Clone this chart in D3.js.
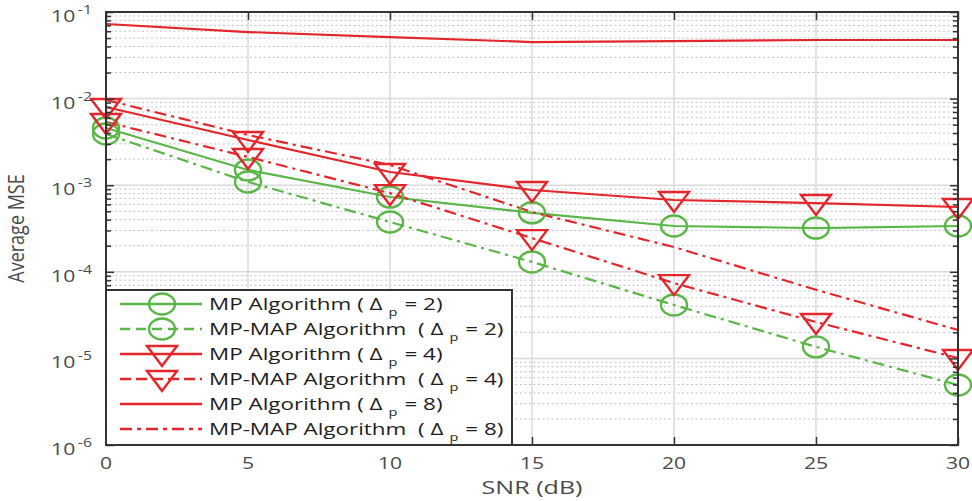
<!DOCTYPE html>
<html>
<head>
<meta charset="utf-8">
<script src="https://cdn.jsdelivr.net/npm/d3@7"></script>
<style>
  html, body { margin: 0; padding: 0; background: #fff; }
  svg { display: block; }
  text { font-family: "Open Sans", "DejaVu Sans", sans-serif; }
</style>
</head>
<body>
<svg id="chart" width="972" height="501"></svg>
<script>
// SNR sweep (dB)
const snr = [0, 5, 10, 15, 20, 25, 30];

// Average MSE per scheme
const mpD2  = [0.00458, 0.00150, 0.00073, 0.00048, 0.000338, 0.00032, 0.000338];
const mapD2 = [0.0039, 0.00109, 0.000376, 0.00013, 4.14e-5, 1.36e-5, 4.93e-6];
const mpD4  = [0.0080, 0.00333, 0.00142, 0.00088, 0.000675, 0.000622, 0.00056];
const mapD4 = [0.00537, 0.00212, 0.00081, 0.000245, 7.4e-5, 2.63e-5, 1.01e-5];
const mpD8  = [0.0727, 0.0587, 0.0514, 0.0450, 0.0460, 0.0475, 0.0475];
const mapD8 = [0.00964, 0.0038, 0.00171, 0.00049, 1.93e-4, 6.2e-5, 2.13e-5];

const xTicks = [0, 5, 10, 15, 20, 25, 30];
const yExponents = [-6, -5, -4, -3, -2, -1];

const legendLabels = [
  { base: "MP Algorithm ( \u0394",      sub: "p", tail: "= 2)" },
  { base: "MP-MAP Algorithm  ( \u0394", sub: "p", tail: "= 2)" },
  { base: "MP Algorithm ( \u0394",      sub: "p", tail: "= 4)" },
  { base: "MP-MAP Algorithm  ( \u0394", sub: "p", tail: "= 4)" },
  { base: "MP Algorithm ( \u0394",      sub: "p", tail: "= 8)" },
  { base: "MP-MAP Algorithm  ( \u0394", sub: "p", tail: "= 8)" }
];

const RED = "#e3262c", GREEN = "#5ab747";
const DASHDOT = "12,5,3,5";
const series = [
  { values: mpD2,  color: GREEN, dash: null,    legendDash: null,       marker: "circle" },
  { values: mapD2, color: GREEN, dash: DASHDOT, legendDash: "10,6",     marker: "circle" },
  { values: mpD4,  color: RED,   dash: null,    legendDash: null,       marker: "tri" },
  { values: mapD4, color: RED,   dash: DASHDOT, legendDash: "11,5",     marker: "tri" },
  { values: mpD8,  color: RED,   dash: null,    legendDash: null,       marker: null },
  { values: mapD8, color: RED,   dash: DASHDOT, legendDash: "12,5,4,5", marker: null }
];

// horizontal text is drawn wide
const SX = 1.32;

const svg = d3.select("#chart");
const W = 972, H = 501;
const m = { left: 106, right: 14, top: 12, bottom: 56 };
const pw = W - m.left - m.right, ph = H - m.top - m.bottom;

const x = d3.scaleLinear().domain([0, 30]).range([m.left, m.left + pw]);
const y = d3.scaleLog().domain([1e-6, 1e-1]).range([m.top + ph, m.top]);

// place a horizontally stretched text
function wideText(parent, tx, ty, str, size, anchor, color) {
  const gg = parent.append("g").attr("transform", `translate(${tx},${ty}) scale(${SX},1)`);
  const t = gg.append("text").attr("x", 0).attr("y", 0)
    .attr("text-anchor", anchor || "start").attr("font-size", size)
    .attr("fill", color).style("white-space", "pre");
  if (str !== null) t.text(str);
  return t;
}

const g = svg.append("g");

// minor (dotted) horizontal grid
const minorVals = [];
yExponents.slice(0, 5).forEach(e => { for (let k = 2; k <= 9; k++) minorVals.push(k * Math.pow(10, e)); });
g.append("g").selectAll("line").data(minorVals).join("line")
  .attr("x1", m.left).attr("x2", m.left + pw)
  .attr("y1", d => y(d)).attr("y2", d => y(d))
  .attr("stroke", "#c2c2c2").attr("stroke-width", 1).attr("stroke-dasharray", "2,2.5");

// major grid
const majorVals = yExponents.map(e => Math.pow(10, e));
g.append("g").selectAll("line").data(majorVals).join("line")
  .attr("x1", m.left).attr("x2", m.left + pw)
  .attr("y1", d => y(d)).attr("y2", d => y(d))
  .attr("stroke", "#dadada").attr("stroke-width", 1.5);
g.append("g").selectAll("line").data(xTicks).join("line")
  .attr("x1", d => x(d)).attr("x2", d => x(d))
  .attr("y1", m.top).attr("y2", m.top + ph)
  .attr("stroke", "#dadada").attr("stroke-width", 1.5);

// series lines
const line = d3.line().x((d, i) => x(snr[i])).y(d => y(d));
series.forEach(s => {
  g.append("path").datum(s.values)
    .attr("d", line).attr("fill", "none")
    .attr("stroke", s.color).attr("stroke-width", 2.2)
    .attr("stroke-dasharray", s.dash);
});

// markers
const triPath = (cx, cy) => {
  const w = 15, h1 = 8, h2 = 12;
  return `M${cx - w},${cy - h1}L${cx + w},${cy - h1}L${cx},${cy + h2}Z`;
};
function drawMarker(sel, type, cx, cy, color) {
  if (type === "circle") {
    sel.append("ellipse").attr("cx", cx).attr("cy", cy).attr("rx", 13).attr("ry", 10.5)
      .attr("fill", "none").attr("stroke", color).attr("stroke-width", 2.4);
  } else if (type === "tri") {
    sel.append("path").attr("d", triPath(cx, cy))
      .attr("fill", "none").attr("stroke", color).attr("stroke-width", 2.4)
      .attr("stroke-linejoin", "miter");
  }
}
series.forEach(s => {
  if (!s.marker) return;
  s.values.forEach((v, i) => drawMarker(g, s.marker, x(snr[i]), y(v), s.color));
});

// axes box with inward ticks
const axisColor = "#333";
const ax = svg.append("g");
const yl = d3.axisLeft(y).tickValues(majorVals).tickSize(-8).tickFormat("");
const yr = d3.axisRight(y).tickValues(majorVals).tickSize(-8).tickFormat("");
const ylm = d3.axisLeft(y).tickValues(minorVals).tickSize(-5).tickFormat("");
const yrm = d3.axisRight(y).tickValues(minorVals).tickSize(-5).tickFormat("");
const xb = d3.axisBottom(x).tickValues(xTicks).tickSize(-8).tickFormat("");
const xt = d3.axisTop(x).tickValues(xTicks).tickSize(-8).tickFormat("");
[[yl, `translate(${m.left},0)`], [ylm, `translate(${m.left},0)`],
 [yr, `translate(${m.left + pw},0)`], [yrm, `translate(${m.left + pw},0)`],
 [xb, `translate(0,${m.top + ph})`], [xt, `translate(0,${m.top})`]].forEach(([a, t]) => {
  const gg = ax.append("g").attr("transform", t).call(a);
  gg.select(".domain").remove();
  gg.selectAll("line").attr("stroke", axisColor).attr("stroke-width", 1.5);
});
ax.append("rect").attr("x", m.left).attr("y", m.top).attr("width", pw).attr("height", ph)
  .attr("fill", "none").attr("stroke", axisColor).attr("stroke-width", 2);

// tick labels
const lblColor = "#4a4a4a";
xTicks.forEach(t => {
  wideText(svg, x(t), m.top + ph + 24, String(t), 16, "middle", lblColor);
});
yExponents.forEach(e => {
  const t = wideText(svg, 92, y(Math.pow(10, e)) + 10, null, 16, "end", lblColor);
  t.append("tspan").text("10");
  t.append("tspan").attr("font-size", 12).attr("dy", -8).attr("dx", 2).text("-" + Math.abs(e));
});

// axis titles
wideText(svg, m.left + pw / 2, H - 7, "SNR (dB)", 19, "middle", lblColor);
svg.append("g").attr("transform", `translate(24,${m.top + ph / 2}) scale(1.2,1) rotate(-90)`)
  .append("text").attr("text-anchor", "middle").attr("font-size", 18)
  .attr("fill", lblColor).text("Average MSE");

// legend
const lg = svg.append("g");
const lx = m.left, lw = 406, ly = 290, lh = m.top + ph - 290;
lg.append("rect").attr("x", lx).attr("y", ly).attr("width", lw).attr("height", lh)
  .attr("fill", "#fff").attr("stroke", axisColor).attr("stroke-width", 2);
series.forEach((s, i) => {
  const ry = 304 + i * 25;
  lg.append("line").attr("x1", 120).attr("x2", 202).attr("y1", ry).attr("y2", ry)
    .attr("stroke", s.color).attr("stroke-width", 2.4).attr("stroke-dasharray", s.legendDash);
  if (s.marker) drawMarker(lg, s.marker, 162, ry, s.color);
  const lab = legendLabels[i];
  let cx = 209;
  const tb = wideText(lg, cx, ry + 6, lab.base, 17, "start", "#1e1e1e");
  cx += tb.node().getComputedTextLength() * SX + 6;
  const ts = wideText(lg, cx, ry + 12, lab.sub, 11, "start", "#1e1e1e");
  cx += ts.node().getComputedTextLength() * SX + 7;
  wideText(lg, cx, ry + 6, lab.tail, 17, "start", "#1e1e1e");
});
</script>
</body>
</html>
